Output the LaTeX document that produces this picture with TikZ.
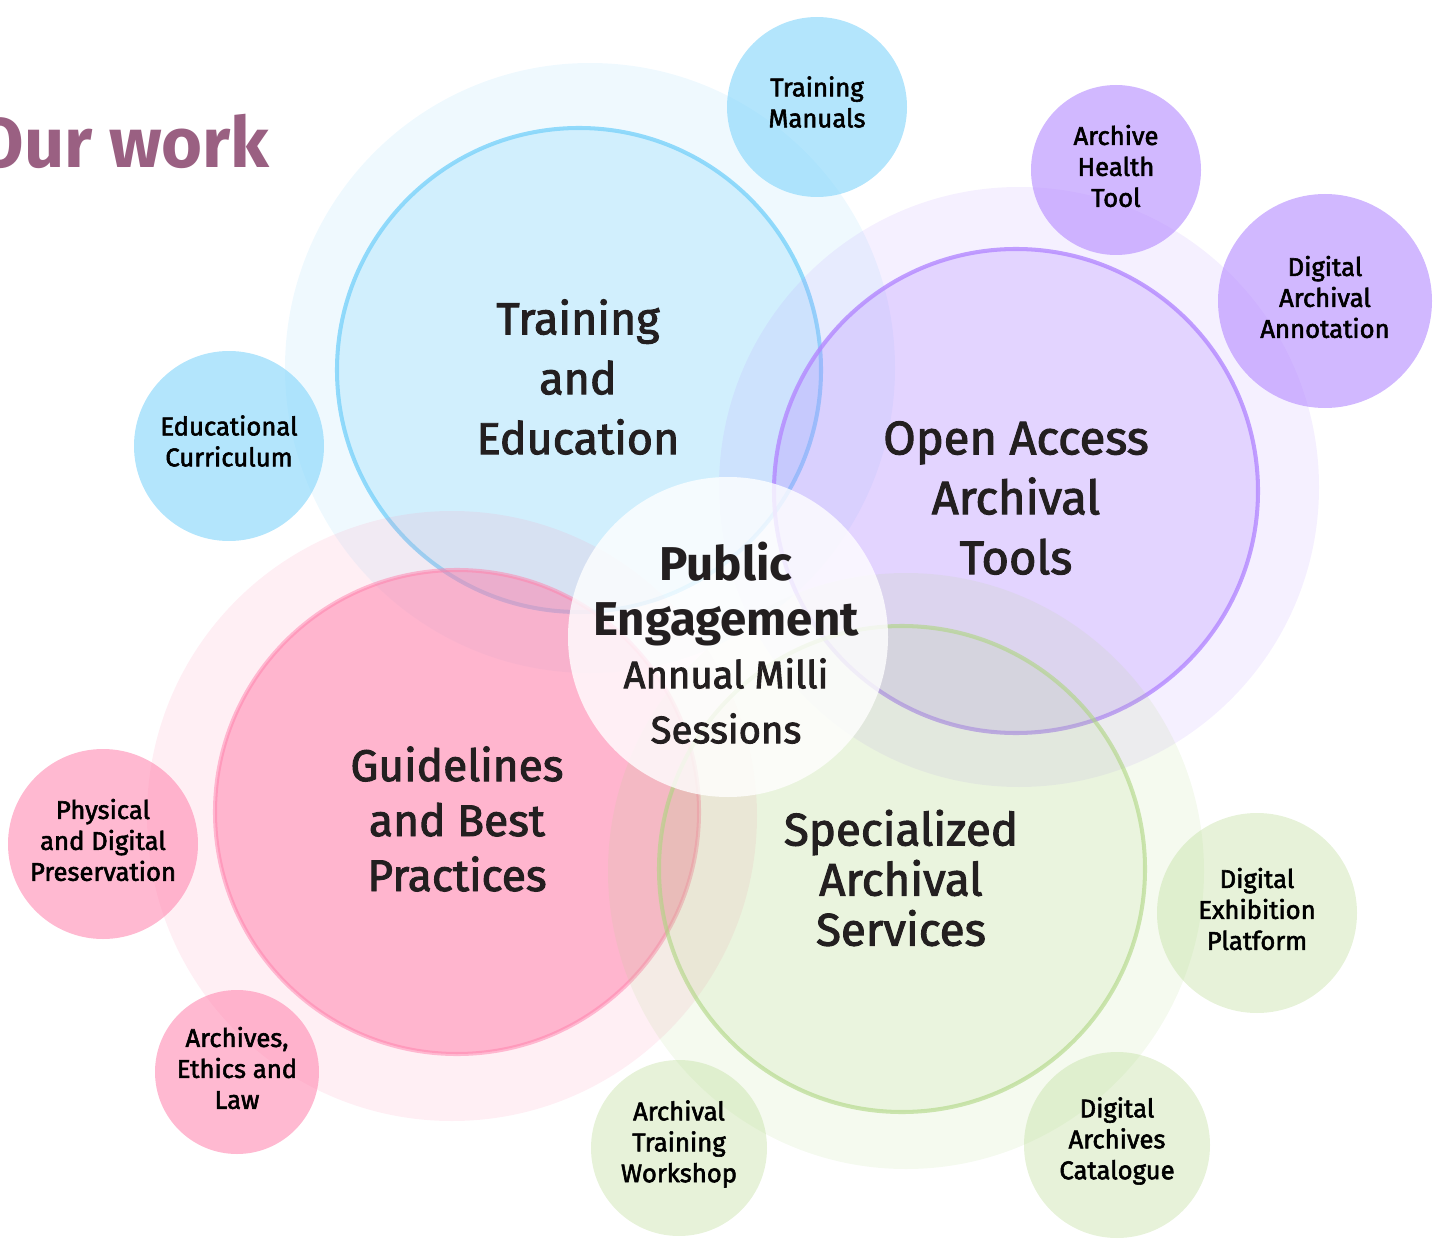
\documentclass[tikz,border=0pt]{standalone}
\usepackage{fontspec}
\setmainfont{Fira Sans}
\newfontfamily\medfont{Fira Sans}[FakeBold=2.2]
\newfontfamily\heavyfont{Fira Sans}[UprightFont=* Bold]

\definecolor{bluebase}{HTML}{81D4FA}
\definecolor{purplebase}{HTML}{B388FF}
\definecolor{pinkbase}{HTML}{FF80AB}
\definecolor{greenbase}{HTML}{AED581}
\definecolor{titlecol}{HTML}{9A6082}
\definecolor{ink}{HTML}{231F20}

\tikzset{
    halo/.style={fill=#1, fill opacity=0.13},
    core/.style n args={3}{fill=#1, fill opacity=#2, draw=#1, draw opacity=#3, line width=2.3pt},
    bubble/.style 2 args={fill=#1, fill opacity=#2},
    smalllabel/.style={text=black, align=center, font=\medfont\fontsize{14.6}{17.6}\selectfont},
    biglabel/.style={text=ink, align=center},
}

\begin{document}
\begin{tikzpicture}[x=0.02cm, y=-0.02cm]

    \clip (0,0) rectangle (1437,1240);
    \useasboundingbox (0,0) rectangle (1437,1240);

    \fill[halo=bluebase] (590,368) circle (305);
    \draw[core={bluebase}{0.27}{0.85}] (579,370) circle (242);

    \fill[halo=purplebase] (1019,487) circle (300);
    \draw[core={purplebase}{0.27}{0.8}] (1016,491) circle (242);

    \fill[halo=pinkbase] (452,816) circle (305);
    \draw[core={pinkbase}{0.52}{0.5}] (457,812) circle (242);

    \fill[halo=greenbase] (906,871) circle (298);
    \draw[core={greenbase}{0.15}{0.6}] (902,869) circle (243);

    \fill[bubble={bluebase}{0.6}] (817,107) circle (90);
    \fill[bubble={bluebase}{0.6}] (229,446) circle (95);
    \fill[bubble={purplebase}{0.6}] (1116,170) circle (85);
    \fill[bubble={purplebase}{0.6}] (1325,301) circle (107);
    \fill[bubble={pinkbase}{0.55}] (103,844) circle (95);
    \fill[bubble={pinkbase}{0.55}] (237,1072) circle (82);
    \fill[bubble={greenbase}{0.3}] (679,1148) circle (88);
    \fill[bubble={greenbase}{0.3}] (1117,1145) circle (93);
    \fill[bubble={greenbase}{0.3}] (1257,913) circle (100);

    \fill[white, fill opacity=0.8] (728,637) circle (160);

    \node[smalllabel] (manuals) at (817,102) {Training\\Manuals};
    \node[smalllabel] (curriculum) at (229,441) {Educational\\Curriculum};
    \node[smalllabel] (health) at (1116,166) {Archive\\Health\\Tool};
    \node[smalllabel] (annotation) at (1325,297) {Digital\\Archival\\Annotation};
    \node[smalllabel] (preservation) at (103,840) {Physical\\and Digital\\Preservation};
    \node[smalllabel] (ethics) at (237,1068) {Archives,\\Ethics and\\Law};
    \node[smalllabel] (workshop) at (679,1144) {Archival\\Training\\Workshop};
    \node[smalllabel] (catalogue) at (1117,1141) {Digital\\Archives\\Catalogue};
    \node[smalllabel] (exhibition) at (1257,909) {Digital\\Exhibition\\Platform};

    \node[biglabel, font=\medfont\fontsize{25.5}{34.1}\selectfont] (training) at (578,377) {Training\\and\\Education};
    \node[biglabel, font=\medfont\fontsize{26.8}{34.1}\selectfont] (openaccess) at (1016,498) {Open Access\\Archival\\Tools};
    \node[biglabel, font=\medfont\fontsize{25.2}{31.3}\selectfont] (guidelines) at (457,819) {Guidelines\\and Best\\Practices};
    \node[biglabel, font=\medfont\fontsize{26}{28.5}\selectfont] (specialized) at (901,878) {Specialized\\Archival\\Services};
    \node[biglabel, font=\heavyfont\fontsize{27}{31.3}\selectfont] (public) at (726,594) {Public\\Engagement};
    \node[biglabel, font=\medfont\fontsize{21.8}{31.3}\selectfont] (milli) at (726,701) {Annual Milli\\Sessions};

    \node[anchor=base east, text=titlecol, font=\heavyfont\fontsize{40}{40}\selectfont] (title) at (276,168) {Our work};

\end{tikzpicture}
\end{document}
